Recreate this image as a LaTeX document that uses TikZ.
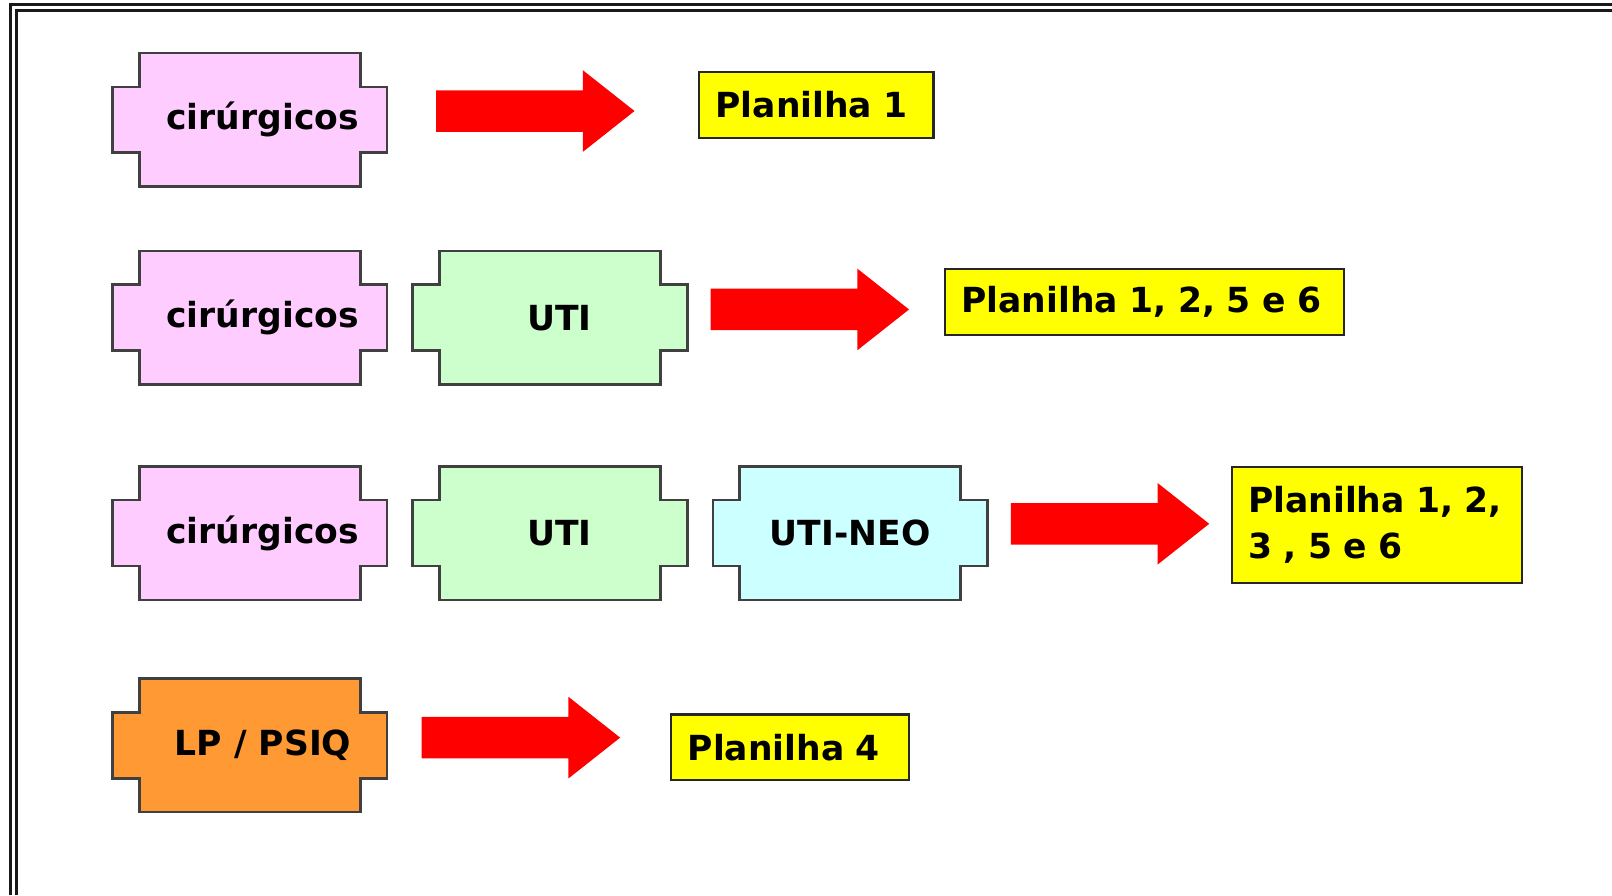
\documentclass[tikz,border=0pt]{standalone}
\usepackage{fontspec}
\setmainfont{DejaVu Sans}
\usetikzlibrary{positioning,shapes.arrows,backgrounds}

\definecolor{rosa}{HTML}{FFCCFF}
\definecolor{verde}{HTML}{CCFFCC}
\definecolor{ciano}{HTML}{CCFFFF}
\definecolor{laranja}{HTML}{FF9933}
\definecolor{amarelo}{HTML}{FFFF00}
\definecolor{vermelho}{HTML}{FF0000}
\definecolor{contorno}{HTML}{404040}

\begin{document}
\begin{tikzpicture}[x=1pt, y=-1pt,
    texto/.style={font=\fontsize{33.6}{45.5}\selectfont\bfseries},
    bloco/.style={texto, rectangle, minimum width=215pt, minimum height=130pt, inner sep=0pt, outer sep=0pt},
    seta/.style={single arrow, fill=vermelho, draw=none, minimum height=193pt, minimum width=79pt,
        single arrow head extend=19.5pt, single arrow tip angle=76.6, inner xsep=0pt, inner ysep=20pt, anchor=tail},
    planilha/.style={texto, draw=black!85, line width=2pt, fill=amarelo, anchor=north west, align=left,
        inner xsep=16pt, inner ysep=0pt, minimum height=64pt}]
    \useasboundingbox (0,0) rectangle (1568,871);
    \draw[line width=2.5pt, black!90] (10.2,871) |- (1568,4.4);
    \draw[line width=2.5pt, black!90] (16,871) |- (1568,10.2);

    \node[bloco] (cir1) at (243,116.5) {\hspace*{25pt}cirúrgicos};
    \node[seta] (s1) at (424,108) {};
    \node[planilha, text width=196pt] (p1) at (679,69) {Planilha 1};

    \node[bloco] (cir2) at (243,309) {\hspace*{25pt}cirúrgicos};
    \node[bloco, right=77pt of cir2] (uti2) {\hspace*{18pt}UTI};
    \node[seta] (s2) at (691,301) {};
    \node[planilha, text width=356pt] (p2) at (918,261) {Planilha 1, 2, 5 e 6};

    \node[bloco] (cir3) at (243,518.5) {\hspace*{25pt}cirúrgicos};
    \node[bloco, right=77pt of cir3] (uti3) {\hspace*{18pt}UTI};
    \node[bloco, right=77pt of uti3] (neo3) {UTI-NEO};
    \node[seta] (s3) at (983,509.5) {};
    \node[planilha, text width=250pt, minimum height=113pt] (p3) at (1197,453) {Planilha 1, 2,\\3 , 5 e 6};

    \node[bloco] (lp4) at (243,725) {\hspace*{26pt}LP / PSIQ};
    \node[seta] (s4) at (410,717.5) {};
    \node[planilha, text width=199pt] (p4) at (652,694) {Planilha 4};

    \begin{scope}[on background layer]
        \foreach \n/\cor in {cir1/rosa, cir2/rosa, uti2/verde, cir3/rosa, uti3/verde, neo3/ciano, lp4/laranja}
            \draw[draw=contorno, line width=2.5pt, fill=\cor]
                (\n.north west) -- (\n.north east) -- ([yshift=32pt]\n.east)
                -- ([xshift=26pt, yshift=32pt]\n.east) -- ([xshift=26pt, yshift=-32pt]\n.east)
                -- ([yshift=-32pt]\n.east) -- (\n.south east) -- (\n.south west)
                -- ([yshift=-32pt]\n.west) -- ([xshift=-26pt, yshift=-32pt]\n.west)
                -- ([xshift=-26pt, yshift=32pt]\n.west) -- ([yshift=32pt]\n.west) -- cycle;
    \end{scope}
\end{tikzpicture}
\end{document}
